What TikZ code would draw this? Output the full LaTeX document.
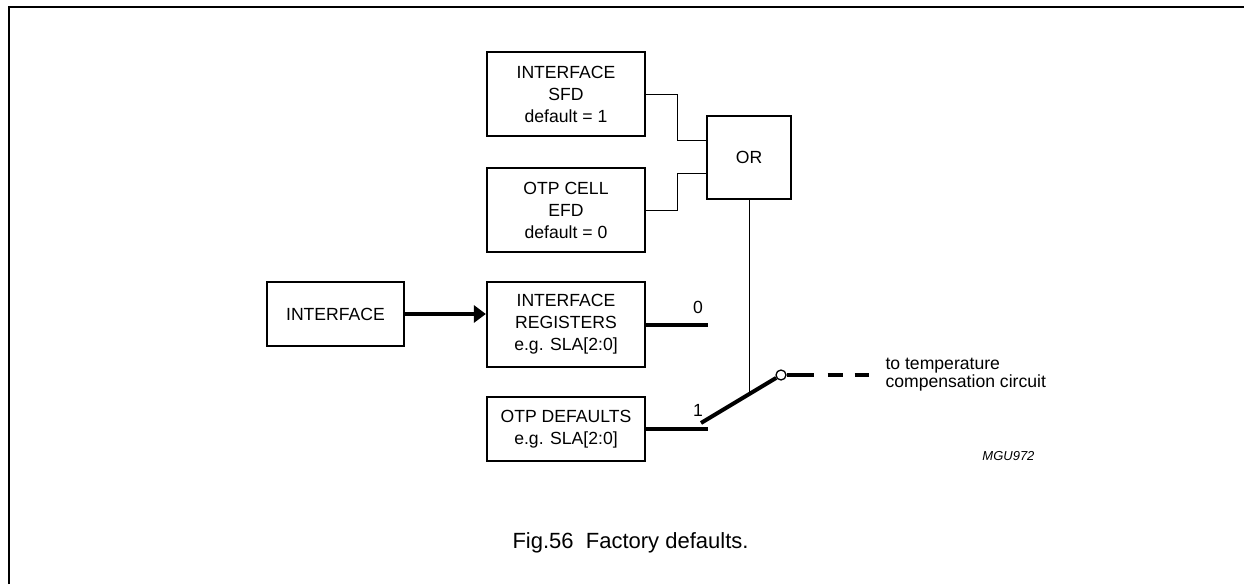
\documentclass[tikz,border=0pt]{standalone}
\usepackage{fontspec}
\setmainfont{Liberation Sans}
\usepackage{tikz}
\usetikzlibrary{positioning,arrows.meta,calc}
\usepackage{xcolor}
\definecolor{ink}{HTML}{000000}
\def\Bfont{\fontsize{17.6}{22}\selectfont}

\begin{document}
\begin{tikzpicture}[x=1pt, y=-1pt, >=Latex,
    blk/.style={draw=ink, line width=2.2pt, align=center, inner sep=0pt, font=\Bfont},
    thinline/.style={ink, line width=1pt},
    bus/.style={ink, line width=4pt}]
        \useasboundingbox (0,0) rectangle (1244,584);
        \draw[ink, line width=2pt] (9,584) -- (9,7) -- (1244,7);
        % the blocks
        \node[blk, minimum width=158pt, minimum height=84pt] (sfd) at (566,94) {INTERFACE\\SFD\\default = 1};
        \node[blk, minimum width=158pt, minimum height=84pt] (efd) at (566,210) {OTP CELL\\EFD\\default = 0};
        \node[blk, minimum width=84pt, minimum height=83pt] (orgate) at (749,157.5) {OR};
        \node[blk, minimum width=137pt, minimum height=64pt] (iface) at (335.5,314) {INTERFACE};
        \node[blk, minimum width=158pt, minimum height=85pt] (ireg) at (566,324.5) {INTERFACE\\REGISTERS\\e.g. SLA[2:0]};
        \node[blk, minimum width=158pt, minimum height=64pt] (otpdef) at (566,429) {OTP DEFAULTS\\e.g. SLA[2:0]};
        % inputs of the OR
        \draw[thinline] (sfd.east) -- ++(31,0) |- ($(orgate.west)+(0,-17.5)$);
        \draw[thinline] (efd.east) -- ++(31,0) |- ($(orgate.west)+(0,16)$);
        % interface into the registers
        \draw[bus, -{Triangle[length=12pt, width=17pt]}] (iface.east) -- (iface.east -| ireg.west);
        % switch contacts
        \draw[bus] (ireg.east) -- ++(62,0) coordinate (in0);
        \draw[bus] (otpdef.east) -- ++(62,0) coordinate (in1);
        \node[font=\Bfont] (zero) at (698,307) {0};
        \node[font=\Bfont] (one) at (698,410) {1};
        \coordinate (bladeA) at (701,423);
        \node[circle, draw=ink, fill=white, line width=1.3pt, minimum size=10pt, inner sep=0pt] (pivot) at (781,375) {};
        \draw[bus] (bladeA) -- (pivot);
        \coordinate (tap) at ($(bladeA)!0.6!(pivot.center)$);
        \draw[thinline] (orgate.south) -- (orgate.south |- tap);
        % output
        \coordinate (outend) at (869,375);
        \draw[bus, dash pattern=on 27pt off 14pt on 15pt off 12pt on 15pt] (pivot) -- (outend);
        \node[anchor=west, align=left, font=\fontsize{17.6}{18}\selectfont] (dest) at (882,374.5) {to temperature\\compensation circuit};
        \node[anchor=east, font=\fontsize{13}{15}\selectfont\itshape] (code) at (1038,456) {MGU972};
        \node[font=\fontsize{22}{25}\selectfont] (cap) at (630.5,543) {Fig.56\ \ Factory defaults.};
      \end{tikzpicture}
\end{document}
